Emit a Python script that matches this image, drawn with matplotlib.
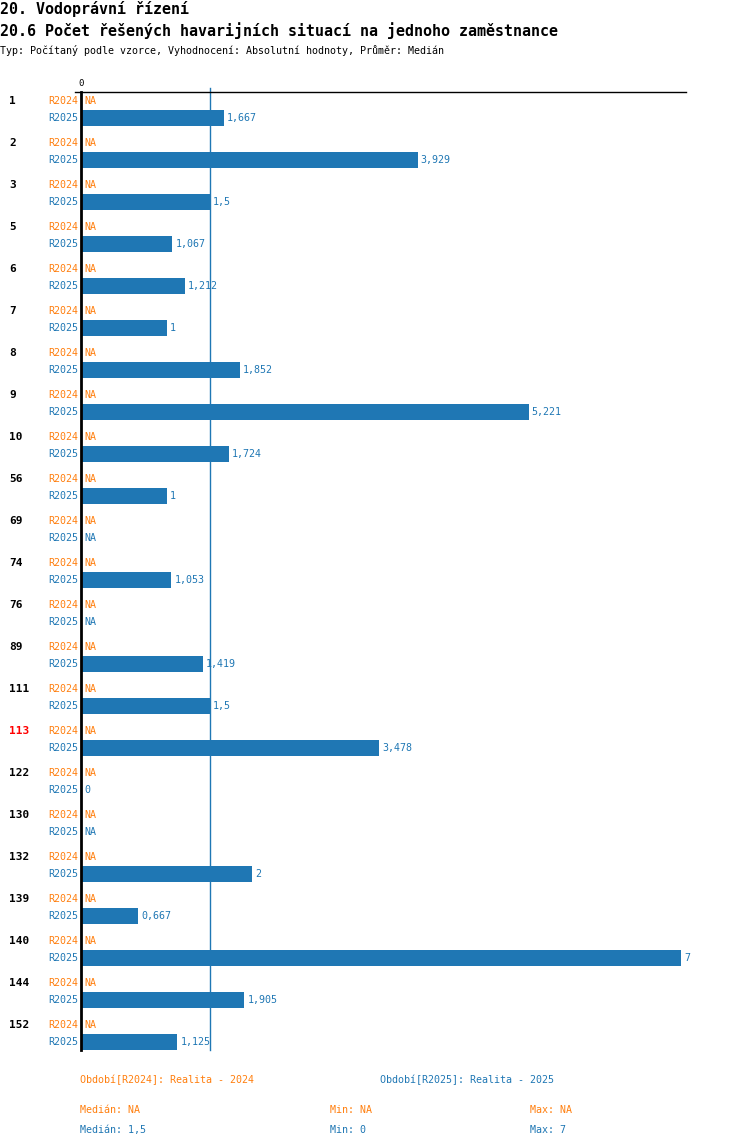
import matplotlib.pyplot as plt
import matplotlib.transforms as mtransforms
import numpy as np

# data
categories = ["1", "2", "3", "5", "6", "7", "8", "9", "10", "56", "69", "74",
              "76", "89", "111", "113", "122", "130", "132", "139", "140", "144", "152"]
r2024 = [None] * len(categories)
r2025 = [1.667, 3.929, 1.5, 1.067, 1.212, 1.0, 1.852, 5.221, 1.724, 1.0, None, 1.053,
         None, 1.419, 1.5, 3.478, 0.0, None, 2.0, 0.667, 7.0, 1.905, 1.125]
value_labels = ["1,667", "3,929", "1,5", "1,067", "1,212", "1", "1,852", "5,221", "1,724", "1",
                "NA", "1,053", "NA", "1,419", "1,5", "3,478", "0", "NA", "2", "0,667", "7",
                "1,905", "1,125"]
highlight = "113"
median_2025 = 1.5

ORANGE = "#ff7f0e"
BLUE = "#1f77b4"
MONO = "DejaVu Sans Mono"

W, H = 750, 1148
fig = plt.figure(figsize=(W / 100, H / 100), dpi=100)

def fx(px):
    return px / W

def fy(py):
    return 1 - py / H

# axes: x=0 at 81px, top line at 92px, bottom at 1050px
ax_left, ax_right, ax_top, ax_bot = 81, 686, 92, 1050
ax = fig.add_axes([fx(ax_left), fy(ax_bot), fx(ax_right - ax_left), (ax_bot - ax_top) / H])
scale = 600 / 7.0  # px per unit
ax.set_xlim(0, (ax_right - ax_left) / scale)
spacing = 42.0
first = 101
ybot, ytop = (ax_bot - first) / spacing, (ax_top - first) / spacing
ax.set_ylim(ybot, ytop)
ax.axis("off")

n = len(categories)
y24 = np.arange(n, dtype=float)
y25 = y24 + 17 / spacing

vals = [v if v is not None else 0 for v in r2025]
ax.barh(y25, vals, height=16 / spacing, color=BLUE, zorder=2)

# axis lines
ax.plot([0, 0], [ybot, ytop], color="black", lw=2, zorder=3, clip_on=False)
ax.plot([-6 / scale, (ax_right - ax_left) / scale], [ytop, ytop], color="black", lw=1,
        zorder=3, clip_on=False)
ax.plot([median_2025, median_2025], [ybot, ytop - 4 / spacing], color=BLUE, lw=1,
        zorder=1, clip_on=False)
ax.annotate("0", (0, ytop), xytext=(0, 3), textcoords="offset points", ha="center",
            va="bottom", fontsize=6.5, family=MONO, annotation_clip=False)

trans_lab = mtransforms.blended_transform_factory(fig.transFigure, ax.transData)
for i, cat in enumerate(categories):
    ax.text(fx(9), y24[i], cat, transform=trans_lab, ha="left", va="center", fontsize=8,
            family=MONO, fontweight="bold", color="red" if cat == highlight else "black")
    ax.annotate("R2024", (0, y24[i]), xytext=(-2.2, 0), textcoords="offset points",
                ha="right", va="center", fontsize=7.2, family=MONO, color=ORANGE)
    ax.annotate("R2025", (0, y25[i]), xytext=(-2.2, 0), textcoords="offset points",
                ha="right", va="center", fontsize=7.2, family=MONO, color=BLUE)
    ax.annotate("NA", (0, y24[i]), xytext=(2.2, 0), textcoords="offset points",
                ha="left", va="center", fontsize=7.2, family=MONO, color=ORANGE)
    ax.annotate(value_labels[i], (vals[i], y25[i]), xytext=(2.2, 0), textcoords="offset points",
                ha="left", va="center", fontsize=7.2, family=MONO, color=BLUE, annotation_clip=False)

# titles
fig.text(fx(0), fy(9), "20. Vodoprávní řízení", ha="left", va="center", fontsize=10.8,
         family=MONO, fontweight="bold")
fig.text(fx(0), fy(31), "20.6 Počet řešených havarijních situací na jednoho zaměstnance",
         ha="left", va="center", fontsize=10.8, family=MONO, fontweight="bold")
fig.text(fx(0), fy(51), "Typ: Počítaný podle vzorce, Vyhodnocení: Absolutní hodnoty, Průměr: Medián",
         ha="left", va="center", fontsize=7.2, family=MONO)

# legend / summary
fig.text(fx(80), fy(1080), "Období[R2024]: Realita - 2024", ha="left", va="center",
         fontsize=7.2, family=MONO, color=ORANGE)
fig.text(fx(380), fy(1080), "Období[R2025]: Realita - 2025", ha="left", va="center",
         fontsize=7.2, family=MONO, color=BLUE)
fig.text(fx(80), fy(1110), "Medián: NA", ha="left", va="center", fontsize=7.2, family=MONO, color=ORANGE)
fig.text(fx(330), fy(1110), "Min: NA", ha="left", va="center", fontsize=7.2, family=MONO, color=ORANGE)
fig.text(fx(530), fy(1110), "Max: NA", ha="left", va="center", fontsize=7.2, family=MONO, color=ORANGE)
fig.text(fx(80), fy(1130), "Medián: 1,5", ha="left", va="center", fontsize=7.2, family=MONO, color=BLUE)
fig.text(fx(330), fy(1130), "Min: 0", ha="left", va="center", fontsize=7.2, family=MONO, color=BLUE)
fig.text(fx(530), fy(1130), "Max: 7", ha="left", va="center", fontsize=7.2, family=MONO, color=BLUE)

fig.savefig("out.png", dpi=100)
